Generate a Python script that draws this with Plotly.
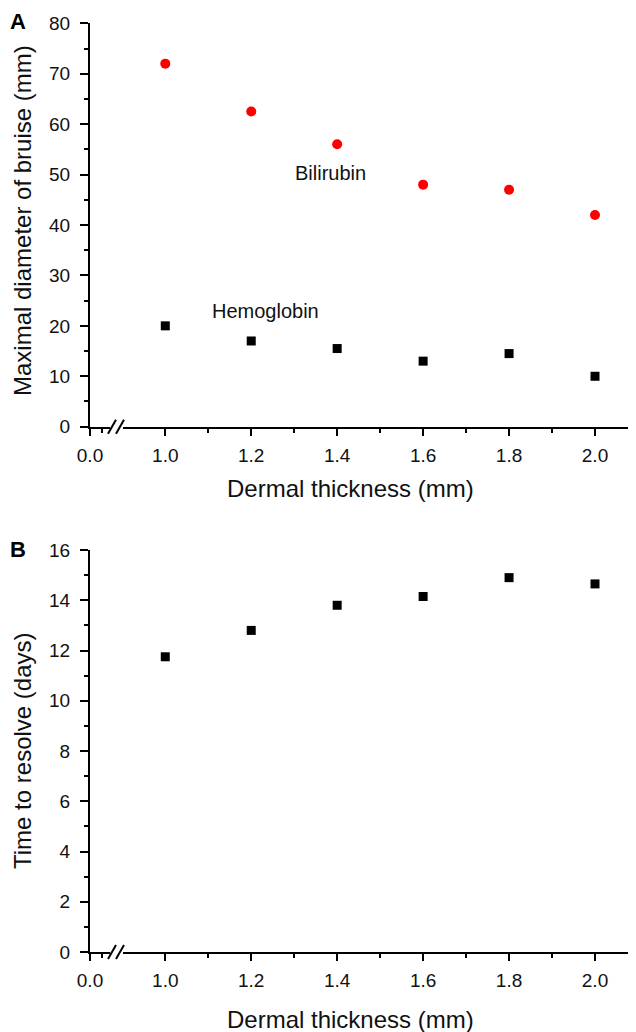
import plotly.graph_objects as go

# ---------------- data ----------------
thickness = [1.0, 1.2, 1.4, 1.6, 1.8, 2.0]
bilirubin_diam = [72.0, 62.5, 56.0, 48.0, 47.0, 42.0]
hemoglobin_diam = [20.0, 17.0, 15.5, 13.0, 14.5, 10.0]
resolve_days = [11.75, 12.8, 13.8, 14.15, 14.9, 14.65]

x_ticks_left = [0.0]
x_ticks_right = [1.0, 1.2, 1.4, 1.6, 1.8, 2.0]
yA_ticks = [0, 10, 20, 30, 40, 50, 60, 70, 80]
yB_ticks = [0, 2, 4, 6, 8, 10, 12, 14, 16]

# ---------------- layout geometry (screen pixels; page body has 8px margin) ----------------
OFF = 8
W, H = 636 - OFF, 1032 - OFF
L = 90 - OFF
PW = W - L
FONT = "Arial, Liberation Sans, sans-serif"
TXT = "#111111"


def px_x(p):
    return (p - OFF - L) / PW


def px_y(p):
    return 1 - (p - OFF) / H


A_top, A_bot = 23.3, 426.7
B_top, B_bot = 550.0, 952.0

left_dom = [0, px_x(110)]
right_dom = [px_x(123), 1]
left_range = [0, 0.17]
right_range = [0.9016, 2.0954]


def xaxis_common(**kw):
    d = dict(
        showline=True, linecolor="black", linewidth=2,
        ticks="outside", ticklen=7, tickwidth=2, tickcolor="black",
        showgrid=False, zeroline=False,
        tickfont=dict(family=FONT, size=19, color=TXT),
        tickformat=".1f", automargin=False,
        ticklabelstandoff=3,
    )
    d.update(kw)
    return d


def yaxis_common(**kw):
    d = dict(
        showline=True, linecolor="black", linewidth=2,
        ticks="outside", ticklen=8, tickwidth=2, tickcolor="black",
        showgrid=False, zeroline=False,
        tickfont=dict(family=FONT, size=19, color=TXT),
        automargin=False, ticklabelstandoff=6,
    )
    d.update(kw)
    return d


fig = go.Figure()

# empty helper traces so the left (pre-break) axis segments get drawn
fig.add_trace(go.Scatter(x=[None], y=[None], xaxis="x", yaxis="y", mode="markers",
                         showlegend=False, hoverinfo="skip"))
fig.add_trace(go.Scatter(x=[None], y=[None], xaxis="x3", yaxis="y2", mode="markers",
                         showlegend=False, hoverinfo="skip"))

fig.add_trace(go.Scatter(
    x=thickness, y=bilirubin_diam, mode="markers", xaxis="x2", yaxis="y",
    marker=dict(symbol="circle", size=10, color="#ff0000", line=dict(width=0)),
    name="Bilirubin", showlegend=False, cliponaxis=False))
fig.add_trace(go.Scatter(
    x=thickness, y=hemoglobin_diam, mode="markers", xaxis="x2", yaxis="y",
    marker=dict(symbol="square", size=9, color="black", line=dict(width=0)),
    name="Hemoglobin", showlegend=False, cliponaxis=False))
fig.add_trace(go.Scatter(
    x=thickness, y=resolve_days, mode="markers", xaxis="x4", yaxis="y2",
    marker=dict(symbol="square", size=9, color="black", line=dict(width=0)),
    name="Time to resolve", showlegend=False, cliponaxis=False))

minor_x = dict(ticks="outside", ticklen=4, tickwidth=2, tickcolor="black", dtick=0.1, showgrid=False)

fig.update_layout(
    width=W, height=H,
    margin=dict(l=L, r=0, t=0, b=0),
    plot_bgcolor="white", paper_bgcolor="white",
    showlegend=False,
    xaxis=xaxis_common(domain=left_dom, range=left_range, anchor="y",
                       tickvals=x_ticks_left, minor=dict(minor_x, tick0=0)),
    xaxis2=xaxis_common(domain=right_dom, range=right_range, anchor="y",
                        tickvals=x_ticks_right, minor=dict(minor_x, tick0=1.0)),
    yaxis=yaxis_common(domain=[px_y(A_bot), px_y(A_top)], range=[0, 80], anchor="x",
                       tickvals=yA_ticks,
                       minor=dict(ticks="outside", ticklen=4, tickwidth=2, tickcolor="black", dtick=5, tick0=0)),
    xaxis3=xaxis_common(domain=left_dom, range=left_range, anchor="y2",
                        tickvals=x_ticks_left, minor=dict(minor_x, tick0=0)),
    xaxis4=xaxis_common(domain=right_dom, range=right_range, anchor="y2",
                        tickvals=x_ticks_right, minor=dict(minor_x, tick0=1.0)),
    yaxis2=yaxis_common(domain=[px_y(B_bot), px_y(B_top)], range=[0, 16], anchor="x3",
                        tickvals=yB_ticks,
                        minor=dict(ticks="outside", ticklen=4, tickwidth=2, tickcolor="black", dtick=1, tick0=0)),
)

# axis break marks "//"
shapes = []
for axis_px in (A_bot, B_bot):
    for x0 in (108, 116):
        shapes.append(dict(type="line", xref="paper", yref="paper",
                           x0=px_x(x0), y0=px_y(axis_px + 7),
                           x1=px_x(x0 + 8), y1=px_y(axis_px - 7),
                           line=dict(color="black", width=2)))
fig.update_layout(shapes=shapes)


def label(text, x, y, size, angle=0, bold=False):
    return dict(text=f"<b>{text}</b>" if bold else text,
                x=px_x(x), y=px_y(y), xref="paper", yref="paper",
                xanchor="center", yanchor="middle", showarrow=False, textangle=angle,
                font=dict(family=FONT, size=size, color=TXT if not bold else "black"))


ann = [
    label("A", 18, 21, 22, bold=True),
    label("B", 18, 549, 22, bold=True),
    label("Dermal thickness (mm)", 350, 488, 24),
    label("Dermal thickness (mm)", 350, 1019, 24),
    label("Maximal diameter of bruise (mm)", 22, 221, 24, angle=-90),
    label("Time to resolve (days)", 22, 751, 24, angle=-90),
    label("Bilirubin", 330, 173, 20),
    label("Hemoglobin", 265, 311, 20),
]
fig.update_layout(annotations=ann)

fig.write_html("out.html")
